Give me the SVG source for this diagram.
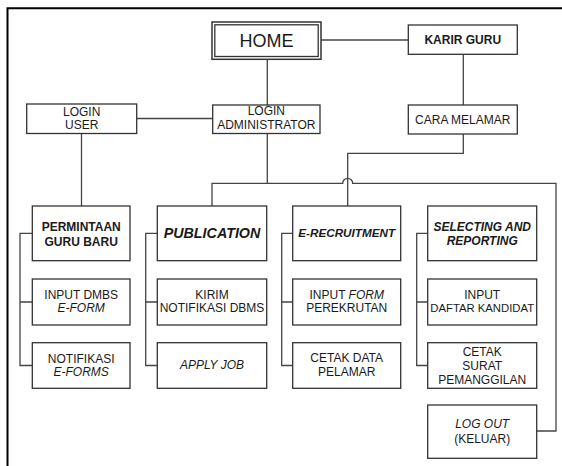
<svg xmlns="http://www.w3.org/2000/svg" width="562" height="466" viewBox="0 0 562 466">
<style>
.bx{fill:#fff;stroke:#333;stroke-width:1.3}
.ln{fill:none;stroke:#444;stroke-width:1.3}
.fr{fill:none;stroke:#000;stroke-width:2}
text{font-family:"Liberation Sans",Arial,sans-serif;font-size:12px;fill:#1a1a1a;text-anchor:middle}
.b{font-weight:bold}
.i{font-style:italic}
</style>
<rect width="562" height="466" fill="#fff"/>
<path class="fr" d="M7.5,466 V8.3 H562"/>
<g id="connectors">
<path class="ln" d="M321,40 H408.3"/>
<path class="ln" d="M267.3,59.3 V105"/>
<path class="ln" d="M136.7,118.5 H212.7"/>
<path class="ln" d="M81.5,133.5 V206"/>
<path class="ln" d="M463.3,54.3 V105"/>
<path class="ln" d="M267.3,133.5 V183.3"/>
<path class="ln" d="M463.3,134 V153.3 H347.7 V206"/>
<path class="ln" d="M212,206 V183.3 H342.7 A5,5 0 0 1 352.7,183.3 H556 V431 H536.7"/>
<path class="ln" d="M32.3,233.3 H20 V365.5 H32.3 M20,302 H32.3"/>
<path class="ln" d="M157.3,233.3 H145.7 V365.5 H157.3 M145.7,302 H157.3"/>
<path class="ln" d="M292.7,233.3 H281.7 V365.5 H292.7 M281.7,302 H292.7"/>
<path class="ln" d="M427.7,233.3 H416.7 V365.5 H427.7 M416.7,302 H427.7"/>
</g>
<g id="home">
<rect x="212" y="22" width="109" height="37.3" fill="#fff" stroke="#333" stroke-width="1.5"/>
<rect x="214.8" y="24.8" width="103.4" height="31.7" fill="none" stroke="#333" stroke-width="1.3"/>
<text x="266.5" y="46.5" style="font-size:18px">HOME</text>
</g>
<g id="karir-guru">
<rect class="bx" x="408.3" y="25" width="109" height="29.3"/>
<text class="b" x="462.8" y="44">KARIR GURU</text>
</g>
<g id="login-user">
<rect class="bx" x="26.7" y="104" width="110" height="29.5"/>
<text x="81.7" y="116">LOGIN</text>
<text x="81.7" y="128.7">USER</text>
</g>
<g id="login-admin">
<rect class="bx" x="212.7" y="105" width="107.3" height="28.5"/>
<text x="266.3" y="114.5">LOGIN</text>
<text x="266.3" y="129.3">ADMINISTRATOR</text>
</g>
<g id="cara-melamar">
<rect class="bx" x="408.3" y="105" width="109" height="29"/>
<text x="462.8" y="123.6">CARA MELAMAR</text>
</g>
<g id="permintaan">
<rect class="bx" x="32.3" y="206" width="97.7" height="54.7"/>
<text class="b" x="81.2" y="231">PERMINTAAN</text>
<text class="b" x="81.2" y="246">GURU BARU</text>
</g>
<g id="input-dmbs">
<rect class="bx" x="32.3" y="279" width="97.7" height="46"/>
<text x="81.2" y="299.3">INPUT DMBS</text>
<text class="i" x="81.2" y="312.3">E-FORM</text>
</g>
<g id="notifikasi">
<rect class="bx" x="32.3" y="342.7" width="97.7" height="45.6"/>
<text x="81.2" y="362.6">NOTIFIKASI</text>
<text class="i" x="81.2" y="376">E-FORMS</text>
</g>
<g id="publication">
<rect class="bx" x="157.3" y="206" width="109.4" height="54.7"/>
<text class="b i" x="212" y="237.8" style="font-size:14.3px">PUBLICATION</text>
</g>
<g id="kirim">
<rect class="bx" x="157.3" y="279" width="109.4" height="46"/>
<text x="212" y="299.3">KIRIM</text>
<text x="212" y="312.3">NOTIFIKASI DBMS</text>
</g>
<g id="apply-job">
<rect class="bx" x="157.3" y="342.7" width="109.4" height="45.6"/>
<text class="i" x="212" y="369.3">APPLY JOB</text>
</g>
<g id="e-recruitment">
<rect class="bx" x="292.7" y="206" width="108" height="54.7"/>
<text class="b i" x="346.7" y="237" style="font-size:11.7px">E-RECRUITMENT</text>
</g>
<g id="input-form">
<rect class="bx" x="292.7" y="279" width="108" height="46"/>
<text x="346.7" y="299.3">INPUT <tspan class="i">FORM</tspan></text>
<text x="346.7" y="312.3">PEREKRUTAN</text>
</g>
<g id="cetak-data">
<rect class="bx" x="292.7" y="342.7" width="108" height="45.6"/>
<text x="346.7" y="362">CETAK DATA</text>
<text x="346.7" y="376">PELAMAR</text>
</g>
<g id="selecting">
<rect class="bx" x="427.7" y="206" width="109" height="54.7"/>
<text class="b i" x="482.2" y="231">SELECTING AND</text>
<text class="b i" x="482.2" y="245.3">REPORTING</text>
</g>
<g id="input-daftar">
<rect class="bx" x="427.7" y="279" width="109" height="46"/>
<text x="482.2" y="299.3">INPUT</text>
<text x="482.2" y="312.3" style="font-size:11.3px">DAFTAR KANDIDAT</text>
</g>
<g id="cetak-surat">
<rect class="bx" x="427.7" y="342.7" width="109" height="45.6"/>
<text x="482.2" y="356">CETAK</text>
<text x="482.2" y="370">SURAT</text>
<text x="482.2" y="384.3">PEMANGGILAN</text>
</g>
<g id="log-out">
<rect class="bx" x="427.7" y="405" width="109" height="53.3"/>
<text class="i" x="482.2" y="428.3">LOG OUT</text>
<text x="482.2" y="442.6">(KELUAR)</text>
</g>
</svg>
